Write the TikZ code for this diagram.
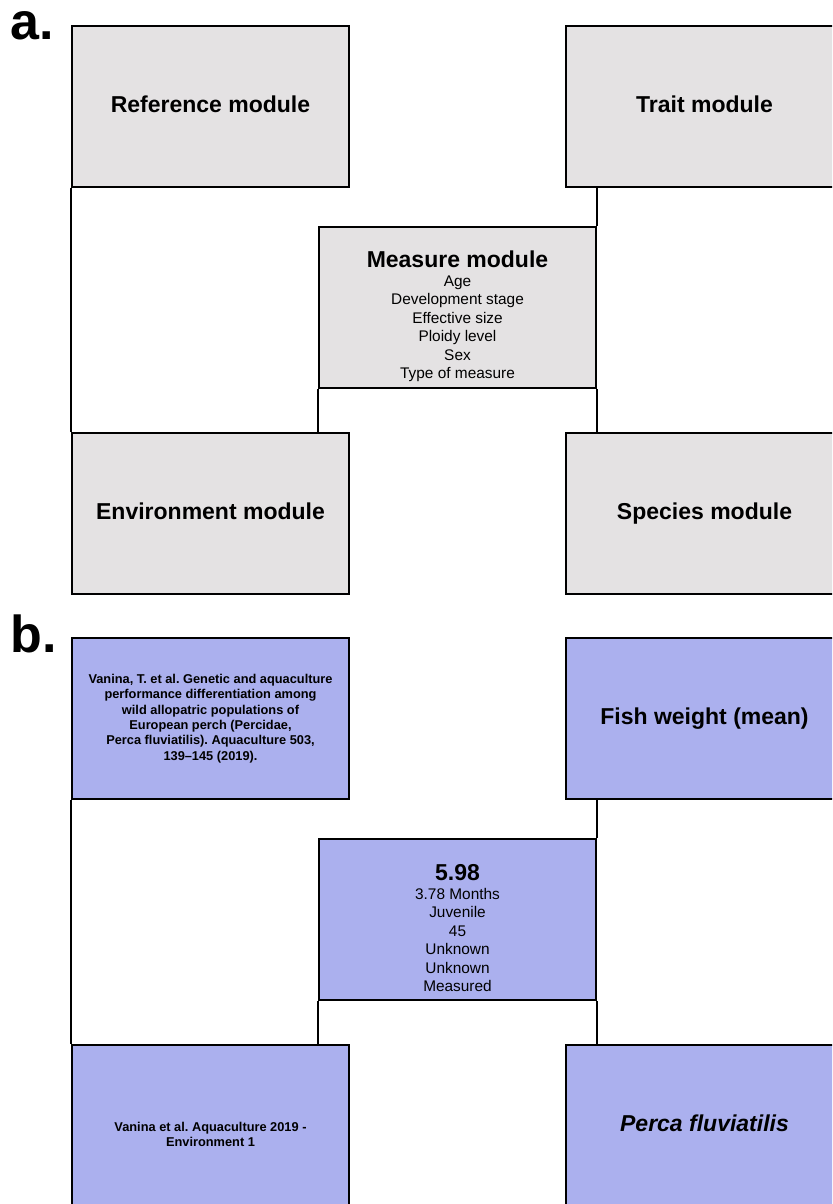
\documentclass[tikz,border=0pt]{standalone}
\usepackage{fontspec}
\setmainfont{Liberation Sans}
\frenchspacing
\definecolor{modgrey}{RGB}{228,226,227}
\definecolor{modblue}{RGB}{171,176,238}

\begin{document}
\begin{tikzpicture}[x=0.5pt,y=-0.5pt,
	modbox/.style={draw,line width=1pt,minimum width=138.5pt,minimum height=80.5pt,inner sep=2pt,align=center},
	greybox/.style={modbox,fill=modgrey},
	bluebox/.style={modbox,fill=modblue},
	bigtxt/.style={font=\fontsize{11.5}{13.5}\selectfont\bfseries,text height=8.5pt,text depth=2.5pt},
	smalltxt/.style={font=\fontsize{6.4}{7.7}\selectfont\bfseries,align=center},
	listtxt/.style={font=\fontsize{7.7}{9.25}\selectfont,align=center},
	link/.style={line width=1pt},
	panel/.style={font=\fontsize{26}{26}\selectfont\bfseries,anchor=base west,inner sep=0pt}]
	\useasboundingbox (0,0) rectangle (832,1204);
	\clip (0,0) rectangle (832,1204);
	% panel a
	\node[panel] (labA) at (10,40) {a.};
	\node[greybox,bigtxt] (refA) at (210.5,106.5) {Reference module};
	\node[greybox,bigtxt] (traitA) at (704.5,106.5) {Trait module};
	\node[greybox] (measA) at (457.5,307.5) {};
	\node[listtxt] (measAtxt) at ([yshift=-4.5pt]measA.center) {{\fontsize{11.5}{11.5}\selectfont\bfseries Measure module}\\Age\\Development stage\\Effective size\\Ploidy level\\Sex\\Type of measure};
	\node[greybox,bigtxt] (envA) at (210.5,513.5) {Environment module};
	\node[greybox,bigtxt] (specA) at (704.5,513.5) {Species module};
	\draw[link] (refA.south west) -- (envA.north west);
	\draw[link] (measA.north east) -- (measA.north east |- traitA.south);
	\draw[link] (measA.south east) -- (measA.south east |- specA.north);
	\draw[link] (measA.south west) -- (measA.south west |- envA.north);
	% panel b
	\node[panel] (labB) at (10,652) {b.};
	\node[bluebox,smalltxt] (refB) at (210.5,718.5) {Vanina, T. et al. Genetic and aquaculture\\performance differentiation among\\wild allopatric populations of\\European perch (Percidae,\\Perca fluviatilis). Aquaculture 503,\\139--145 (2019).};
	\node[bluebox,bigtxt] (traitB) at (704.5,718.5) {Fish weight (mean)};
	\node[bluebox] (measB) at (457.5,919.5) {};
	\node[listtxt] (measBtxt) at ([yshift=-4.5pt]measB.center) {{\fontsize{11.5}{11.5}\selectfont\bfseries 5.98}\\3.78 Months\\Juvenile\\45\\Unknown\\Unknown\\Measured};
	\node[bluebox] (envB) at (210.5,1125.5) {};
	\node[smalltxt] (envBtxt) at ([yshift=-4.5pt]envB.center) {Vanina et al. Aquaculture 2019 -\\Environment 1};
	\node[bluebox,bigtxt] (specB) at (704.5,1125.5) {\itshape Perca fluviatilis};
	\draw[link] (refB.south west) -- (envB.north west);
	\draw[link] (measB.north east) -- (measB.north east |- traitB.south);
	\draw[link] (measB.south east) -- (measB.south east |- specB.north);
	\draw[link] (measB.south west) -- (measB.south west |- envB.north);
\end{tikzpicture}
\end{document}
